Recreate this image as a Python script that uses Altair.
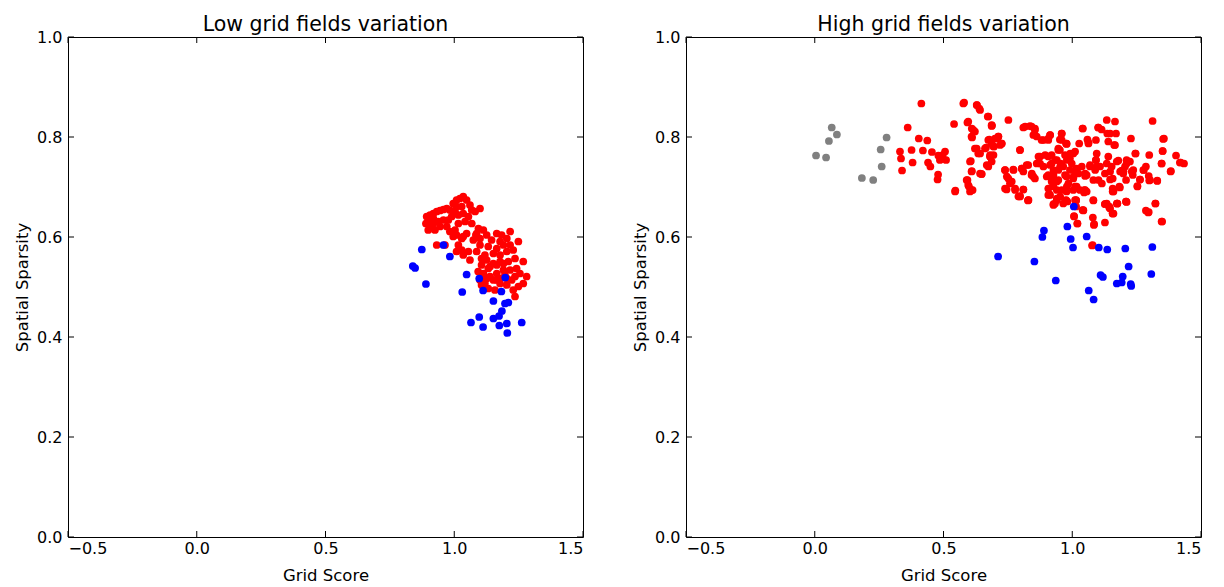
import altair as alt
import pandas as pd

# ---------------- Left panel: Low grid fields variation ----------------
low_red_x = [0.893, 0.890, 0.899, 0.906, 0.919, 0.932, 0.945, 0.958, 0.971, 0.983,
             0.996, 1.009, 1.022, 1.035, 1.048, 1.061, 1.068, 1.055, 1.042, 1.035,
             1.016, 1.003, 0.990, 0.977, 0.958, 0.938, 0.919, 0.912, 0.925, 0.945,
             0.971, 0.983, 1.003, 1.009, 1.100, 1.081, 1.068, 1.094, 1.084, 1.100,
             1.074, 1.048, 1.029, 1.016, 1.029, 1.009, 1.035, 1.055, 1.087, 1.061,
             1.106, 1.100, 1.126, 1.145, 1.165, 1.184, 1.204, 1.217, 1.249, 1.191,
             1.165, 1.132, 1.119, 1.152, 1.178, 1.204, 1.229, 1.236, 1.210, 1.178,
             1.152, 1.132, 1.113, 1.100, 1.119, 1.139, 1.165, 1.191, 1.217, 1.242,
             1.268, 1.255, 1.281, 1.268, 1.249, 1.229, 1.236, 1.204, 1.178, 1.158,
             1.132, 1.106, 1.093, 0.932, 0.964, 1.035, 0.996, 1.152, 1.178, 1.204,
             1.223, 1.126, 1.139, 1.165, 1.191, 1.165, 1.126, 1.197, 1.236, 1.087,
             1.113, 1.217, 1.178, 1.106, 0.919, 1.009, 1.029, 1.016, 0.899]
low_red_y = [0.641, 0.627, 0.614, 0.644, 0.647, 0.651, 0.653, 0.655, 0.657, 0.654,
             0.667, 0.674, 0.677, 0.681, 0.674, 0.664, 0.654, 0.641, 0.631, 0.647,
             0.644, 0.651, 0.641, 0.634, 0.634, 0.631, 0.627, 0.621, 0.614, 0.621,
             0.621, 0.611, 0.614, 0.604, 0.657, 0.651, 0.627, 0.617, 0.604, 0.597,
             0.594, 0.607, 0.597, 0.584, 0.574, 0.571, 0.564, 0.571, 0.571, 0.554,
             0.557, 0.584, 0.604, 0.594, 0.607, 0.604, 0.597, 0.611, 0.591, 0.584,
             0.577, 0.581, 0.564, 0.567, 0.564, 0.571, 0.574, 0.557, 0.551, 0.551,
             0.547, 0.537, 0.527, 0.514, 0.507, 0.521, 0.527, 0.534, 0.534, 0.537,
             0.551, 0.527, 0.521, 0.507, 0.501, 0.494, 0.481, 0.504, 0.507, 0.494,
             0.497, 0.504, 0.531, 0.584, 0.584, 0.601, 0.601, 0.514, 0.517, 0.517,
             0.514, 0.554, 0.541, 0.544, 0.547, 0.514, 0.517, 0.524, 0.521, 0.607,
             0.614, 0.584, 0.591, 0.544, 0.637, 0.661, 0.661, 0.627, 0.631]

low_blue_x = [0.874, 0.839, 0.848, 0.890, 0.958, 0.983, 1.048, 1.031, 1.097, 1.198,
              1.112, 1.183, 1.152, 1.197, 1.210, 1.185, 1.174, 1.152, 1.097, 1.065,
              1.112, 1.175, 1.204, 1.206, 1.262]
low_blue_y = [0.575, 0.542, 0.538, 0.506, 0.584, 0.561, 0.525, 0.490, 0.517, 0.519,
              0.493, 0.491, 0.472, 0.467, 0.469, 0.452, 0.442, 0.437, 0.440, 0.429,
              0.420, 0.423, 0.427, 0.408, 0.429]

# ---------------- Right panel: High grid fields variation ----------------
high_gray_x = [0.066, 0.086, 0.055, 0.005, 0.044, 0.279, 0.256, 0.260, 0.183, 0.227]
high_gray_y = [0.819, 0.805, 0.792, 0.763, 0.759, 0.799, 0.775, 0.741, 0.718, 0.714]

high_blue_x = [1.006, 0.890, 0.884, 0.981, 0.994, 1.003, 1.056, 1.103, 1.136, 1.206,
               1.311, 0.712, 0.853, 0.936, 1.219, 1.110, 1.119, 1.196, 1.173, 1.192,
               1.227, 1.229, 1.307, 1.064, 1.083]
high_blue_y = [0.661, 0.613, 0.600, 0.621, 0.596, 0.579, 0.601, 0.579, 0.575, 0.577,
               0.580, 0.561, 0.551, 0.513, 0.541, 0.524, 0.520, 0.521, 0.507, 0.509,
               0.506, 0.502, 0.526, 0.493, 0.475]

high_red_x = [
    0.414, 0.580, 0.361, 0.541, 0.593, 0.404, 0.437, 0.331, 0.376, 0.420,
    0.455, 0.335, 0.380, 0.339, 0.440, 0.449, 0.480, 0.486, 0.506, 0.510,
    0.479, 0.477, 0.546, 0.497, 0.630, 0.639, 0.672, 0.688, 0.610, 0.622,
    0.611, 0.678, 0.707, 0.629, 0.665, 0.696, 0.642, 0.681, 0.606, 0.674,
    0.610, 0.648, 0.593, 0.599, 0.613, 0.752, 0.687, 0.810, 0.836, 0.855,
    0.849, 0.862, 0.914, 0.888, 0.907, 0.959, 0.952, 0.976, 1.041, 1.027,
    1.059, 1.063, 1.092, 1.101, 1.114, 1.134, 1.166, 1.136, 1.170, 1.140,
    1.166, 1.228, 1.312, 1.353, 1.351, 1.403, 1.418, 1.434, 1.383, 1.347,
    1.299, 1.330, 1.286, 1.278, 1.297, 1.302, 1.245, 1.253, 1.211, 1.224,
    1.199, 1.209, 1.237, 1.263, 1.205, 1.173, 1.186, 1.140, 1.134, 1.153,
    1.147, 1.160, 1.183, 1.173, 1.209, 1.134, 1.147, 1.160, 1.092, 1.089,
    1.102, 1.082, 1.047, 1.056, 1.043, 1.011, 1.015, 1.007, 0.981, 0.940,
    0.927, 0.907, 0.907, 0.920, 0.927, 0.946, 0.955, 0.979, 0.992, 1.011,
    0.946, 0.920, 0.895, 0.869, 0.862, 0.888, 0.907, 0.920, 0.933, 0.849,
    0.843, 0.823, 0.810, 0.804, 0.772, 0.739, 0.746, 0.765, 0.739, 0.778,
    0.791, 0.810, 0.830, 0.797, 0.681, 0.694, 0.720, 0.726, 0.687, 0.700,
    0.713, 0.940, 0.979, 1.011, 1.030, 1.024, 1.050, 1.069, 1.108, 1.095,
    1.127, 1.115, 1.005, 1.037, 0.545, 0.603, 0.797, 0.828, 0.911, 0.927,
    0.940, 0.976, 1.015, 1.007, 1.043, 1.020, 1.082, 1.080, 1.085, 1.127,
    1.144, 1.157, 1.127, 1.175, 1.211, 1.286, 1.297, 1.323, 1.349, 1.157,
    1.040, 1.101, 1.147, 0.959, 0.978, 1.063, 1.163, 1.356, 1.246, 1.351,
    1.421, 1.347, 1.382, 1.276, 1.299, 1.330, 1.263, 1.253, 1.211, 1.179,
    1.092, 1.069, 1.095, 1.147, 1.192, 1.198, 1.231, 1.235, 1.185, 1.157,
    1.160, 1.157, 1.082, 1.050, 1.056, 1.017, 1.011, 0.991, 0.972, 1.004,
    0.985, 1.017, 1.004, 1.050, 1.046, 0.959, 0.976, 1.015, 1.127, 1.144,
    1.157, 1.175, 1.209, 1.295, 1.323, 1.347, 1.040, 1.020, 1.084, 1.079,
    0.952, 0.972, 0.991, 1.004, 0.998, 0.965, 0.577, 0.629, 0.642, 0.674,
    0.596, 0.616, 0.609, 0.687, 0.817, 0.842, 0.855, 0.881, 0.907, 0.914,
    0.959, 0.978, 0.946, 0.797, 0.674, 0.713, 0.726, 0.622, 0.635, 0.661,
    0.681, 0.687, 0.668, 0.694, 0.603, 0.609, 0.648, 0.642, 0.590, 0.596,
    0.609, 0.739, 0.771, 0.804, 0.829, 0.752, 0.758, 0.745, 0.778, 0.810,
    0.797, 0.829, 0.842, 0.855, 0.875, 0.875, 0.907, 0.914, 0.940, 0.953,
    0.927, 0.901, 0.920, 0.946, 0.978, 0.927, 0.940, 0.914, 0.953, 0.933,
    0.965, 0.978, 1.077]
high_red_y = [
    0.867, 0.869, 0.819, 0.826, 0.829, 0.797, 0.793, 0.771, 0.774, 0.773,
    0.770, 0.757, 0.749, 0.733, 0.749, 0.741, 0.763, 0.754, 0.771, 0.754,
    0.725, 0.715, 0.693, 0.764, 0.864, 0.857, 0.841, 0.823, 0.817, 0.811,
    0.799, 0.795, 0.797, 0.777, 0.779, 0.781, 0.767, 0.761, 0.752, 0.741,
    0.732, 0.726, 0.714, 0.701, 0.694, 0.834, 0.824, 0.819, 0.822, 0.817,
    0.804, 0.801, 0.804, 0.794, 0.794, 0.807, 0.795, 0.787, 0.817, 0.787,
    0.795, 0.787, 0.794, 0.819, 0.815, 0.834, 0.831, 0.807, 0.807, 0.791,
    0.784, 0.797, 0.832, 0.796, 0.772, 0.763, 0.749, 0.747, 0.732, 0.747,
    0.764, 0.712, 0.741, 0.734, 0.722, 0.714, 0.767, 0.701, 0.754, 0.751,
    0.731, 0.714, 0.734, 0.715, 0.741, 0.751, 0.731, 0.761, 0.747, 0.741,
    0.715, 0.694, 0.701, 0.667, 0.671, 0.667, 0.657, 0.647, 0.754, 0.734,
    0.714, 0.674, 0.694, 0.691, 0.654, 0.674, 0.661, 0.641, 0.671, 0.674,
    0.664, 0.684, 0.697, 0.711, 0.724, 0.734, 0.747, 0.754, 0.767, 0.771,
    0.777, 0.764, 0.764, 0.761, 0.747, 0.741, 0.724, 0.747, 0.754, 0.721,
    0.727, 0.744, 0.731, 0.737, 0.734, 0.734, 0.721, 0.711, 0.697, 0.694,
    0.681, 0.695, 0.674, 0.774, 0.761, 0.764, 0.784, 0.787, 0.787, 0.797,
    0.801, 0.711, 0.701, 0.701, 0.694, 0.727, 0.727, 0.741, 0.741, 0.767,
    0.727, 0.707, 0.721, 0.741, 0.691, 0.691, 0.682, 0.673, 0.686, 0.666,
    0.677, 0.673, 0.673, 0.642, 0.653, 0.627, 0.673, 0.639, 0.626, 0.666,
    0.661, 0.647, 0.629, 0.667, 0.670, 0.653, 0.650, 0.667, 0.631, 0.691,
    0.817, 0.819, 0.807, 0.794, 0.786, 0.789, 0.784, 0.797, 0.767, 0.772,
    0.749, 0.747, 0.731, 0.734, 0.713, 0.713, 0.715, 0.702, 0.747, 0.753,
    0.754, 0.744, 0.741, 0.731, 0.733, 0.727, 0.731, 0.724, 0.699, 0.697,
    0.691, 0.717, 0.714, 0.722, 0.724, 0.737, 0.733, 0.734, 0.724, 0.717,
    0.707, 0.701, 0.694, 0.694, 0.689, 0.694, 0.674, 0.674, 0.666, 0.659,
    0.647, 0.667, 0.671, 0.649, 0.667, 0.631, 0.654, 0.627, 0.624, 0.584,
    0.774, 0.764, 0.757, 0.767, 0.747, 0.741, 0.867, 0.864, 0.854, 0.841,
    0.831, 0.814, 0.801, 0.822, 0.821, 0.821, 0.814, 0.794, 0.797, 0.804,
    0.807, 0.787, 0.774, 0.774, 0.794, 0.801, 0.787, 0.777, 0.767, 0.777,
    0.764, 0.751, 0.744, 0.781, 0.751, 0.731, 0.726, 0.727, 0.714, 0.704,
    0.694, 0.734, 0.735, 0.737, 0.744, 0.717, 0.707, 0.695, 0.697, 0.695,
    0.681, 0.674, 0.724, 0.717, 0.747, 0.761, 0.761, 0.744, 0.754, 0.741,
    0.734, 0.721, 0.721, 0.714, 0.721, 0.701, 0.694, 0.684, 0.681, 0.667,
    0.667, 0.691, 0.583]

x_ticks = [-0.5, 0.0, 0.5, 1.0, 1.5]
y_ticks = [0.0, 0.2, 0.4, 0.6, 0.8, 1.0]

W, H = 515, 500
FONT = "DejaVu Sans"
TICK_LEN = 6

xscale = alt.Scale(domain=[-0.5, 1.5], nice=False, zero=False)
yscale = alt.Scale(domain=[0.0, 1.0], nice=False, zero=False)
x_axis = alt.Axis(values=x_ticks, format=".1f", ticks=False, domain=False, grid=False,
                  labelPadding=3, title="Grid Score", titlePadding=11)
y_axis = alt.Axis(values=y_ticks, format=".1f", ticks=False, domain=False, grid=False,
                  labelPadding=6, title="Spatial Sparsity", titlePadding=6)


def X():
    return alt.X("x:Q", scale=xscale, axis=x_axis)


def Y():
    return alt.Y("y:Q", scale=yscale, axis=y_axis)


def panel(groups, title):
    layers = []
    for xs, ys, color in groups:
        df = pd.DataFrame({"x": xs, "y": ys})
        layers.append(
            alt.Chart(df).mark_circle(size=60, opacity=1, color=color).encode(x=X(), y=Y())
        )
    xt = pd.DataFrame({"x": x_ticks})
    yt = pd.DataFrame({"y": y_ticks})
    tick_style = dict(color="black", strokeWidth=1)
    layers += [
        alt.Chart(xt).mark_rule(**tick_style).encode(
            x=X(), y=alt.value(H), y2=alt.value(H - TICK_LEN)),
        alt.Chart(xt).mark_rule(**tick_style).encode(
            x=X(), y=alt.value(0), y2=alt.value(TICK_LEN)),
        alt.Chart(yt).mark_rule(**tick_style).encode(
            y=Y(), x=alt.value(0), x2=alt.value(TICK_LEN)),
        alt.Chart(yt).mark_rule(**tick_style).encode(
            y=Y(), x=alt.value(W), x2=alt.value(W - TICK_LEN)),
    ]
    return alt.layer(*layers).properties(
        width=W, height=H,
        title=alt.TitleParams(title, font=FONT, fontSize=20.5, fontWeight="normal",
                              color="black", offset=-6),
    )


left = panel([(low_red_x, low_red_y, "#ff0000"),
              (low_blue_x, low_blue_y, "#0000ff")], "Low grid fields variation")
right = panel([(high_gray_x, high_gray_y, "#808080"),
               (high_red_x, high_red_y, "#ff0000"),
               (high_blue_x, high_blue_y, "#0000ff")], "High grid fields variation")

chart = alt.hconcat(left, right, spacing=48).properties(
    padding={"left": 14, "top": 14, "right": 5, "bottom": 2},
    background="white",
).configure_view(
    stroke="black", strokeWidth=1
).configure_axis(
    labelFont=FONT, labelFontSize=16, labelColor="black",
    titleFont=FONT, titleFontSize=16.5, titleColor="black", titleFontWeight="normal",
)

chart.save("out.html", embed_options={"renderer": "svg", "actions": False})
